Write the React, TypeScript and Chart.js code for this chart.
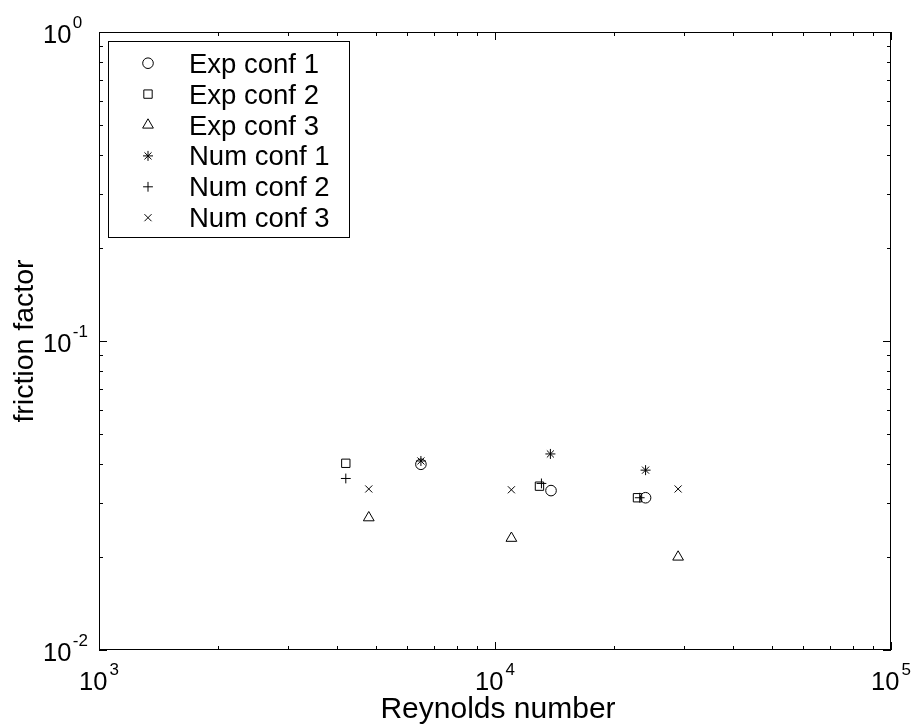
import { useEffect, useRef } from "react";
import { Chart, registerables } from "chart.js";
import { drawPoint } from "chart.js/helpers";

Chart.register(...registerables);

// ---- data (Reynolds number, friction factor) ----
const seriesLabels = ["Exp conf 1", "Exp conf 2", "Exp conf 3", "Num conf 1", "Num conf 2", "Num conf 3"];
const expConf1Re = [6500, 13850, 24000];
const expConf1F = [0.0399, 0.0328, 0.0311];
const expConf2Re = [4200, 12950, 22900];
const expConf2F = [0.0402, 0.0339, 0.0311];
const expConf3Re = [4800, 11000, 29000];
const expConf3F = [0.0268, 0.0230, 0.0200];
const numConf1Re = [6500, 13800, 24000];
const numConf1F = [0.0409, 0.0431, 0.0382];
const numConf2Re = [4200, 13100, 23200];
const numConf2F = [0.0359, 0.0346, 0.0311];
const numConf3Re = [4800, 11000, 29000];
const numConf3F = [0.0332, 0.0330, 0.0332];

// ---- ticks ----
const xMajorTicks = [1e3, 1e4, 1e5];
const xTickExponents = ["3", "4", "5"];
const xMinorTicks = [2e3, 3e3, 4e3, 5e3, 6e3, 7e3, 8e3, 9e3, 2e4, 3e4, 4e4, 5e4, 6e4, 7e4, 8e4, 9e4];
const yMajorTicks = [1e-2, 1e-1, 1];
const yTickExponents = ["-2", "-1", "0"];
const yMinorTicks = [0.02, 0.03, 0.04, 0.05, 0.06, 0.07, 0.08, 0.09, 0.2, 0.3, 0.4, 0.5, 0.6, 0.7, 0.8, 0.9];
const xTitle = "Reynolds number";
const yTitle = "friction factor";

const FONT = "'Liberation Sans', Arial, Helvetica, sans-serif";

const pts = (xs: number[], ys: number[]) => xs.map((x, i) => ({ x, y: ys[i] }));

const styles: { pointStyle: any; radius: number }[] = [
  { pointStyle: "circle", radius: 5.3 },
  { pointStyle: "rect", radius: 5.9 },
  { pointStyle: "triangle", radius: 6.2 },
  { pointStyle: "star", radius: 5 },
  { pointStyle: "cross", radius: 4.9 },
  { pointStyle: "crossRot", radius: 5 },
];

const frame = {
  id: "matlabFrame",
  afterDraw(chart: any) {
    const ctx: CanvasRenderingContext2D = chart.ctx;
    const { left, right, top, bottom } = chart.chartArea;
    const xs = chart.scales.x;
    const ys = chart.scales.y;
    ctx.save();
    ctx.strokeStyle = "#000";
    ctx.lineWidth = 1;
    ctx.fillStyle = "#000";

    // box
    ctx.strokeRect(left + 0.5, top + 0.5, right - left - 1, bottom - top - 1);

    const tick = (len: number, vx: number[], vy: number[]) => {
      ctx.beginPath();
      vx.forEach((v) => {
        const px = Math.round(xs.getPixelForValue(v)) + 0.5;
        ctx.moveTo(px, bottom);
        ctx.lineTo(px, bottom - len);
        ctx.moveTo(px, top);
        ctx.lineTo(px, top + len);
      });
      vy.forEach((v) => {
        const py = Math.round(ys.getPixelForValue(v)) + 0.5;
        ctx.moveTo(left, py);
        ctx.lineTo(left + len, py);
        ctx.moveTo(right, py);
        ctx.lineTo(right - len, py);
      });
      ctx.stroke();
    };
    tick(8, xMajorTicks, yMajorTicks);
    tick(4, xMinorTicks, yMinorTicks);

    // tick labels
    const mainFont = `25.5px ${FONT}`;
    const supFont = `17px ${FONT}`;
    ctx.textBaseline = "alphabetic";
    ctx.textAlign = "left";
    xMajorTicks.forEach((v, i) => {
      const px = xs.getPixelForValue(v);
      ctx.font = mainFont;
      const w1 = ctx.measureText("10").width;
      ctx.font = supFont;
      const w2 = ctx.measureText(xTickExponents[i]).width;
      const x0 = px - (w1 + 2 + w2) / 2;
      ctx.font = mainFont;
      ctx.fillText("10", x0, bottom + 40);
      ctx.font = supFont;
      ctx.fillText(xTickExponents[i], x0 + w1 + 2, bottom + 25);
    });
    yMajorTicks.forEach((v, i) => {
      const py = ys.getPixelForValue(v);
      ctx.font = mainFont;
      const w1 = ctx.measureText("10").width;
      ctx.fillText("10", 43, py + 10.5);
      ctx.font = supFont;
      ctx.fillText(yTickExponents[i], 43 + w1 + 1.5, py - 4.5);
    });

    // axis titles
    ctx.textAlign = "center";
    ctx.font = `30px ${FONT}`;
    ctx.fillText(xTitle, 498, 717.5);
    ctx.save();
    ctx.font = `28.5px ${FONT}`;
    ctx.translate(33.3, (top + bottom) / 2);
    ctx.rotate(-Math.PI / 2);
    ctx.fillText(yTitle, 0, 0);
    ctx.restore();

    // legend
    const bx = 108, by = 41, bw = 241, bh = 196;
    ctx.fillStyle = "#fff";
    ctx.fillRect(bx, by, bw, bh);
    ctx.strokeStyle = "#000";
    ctx.strokeRect(bx + 0.5, by + 0.5, bw, bh);
    ctx.textAlign = "left";
    ctx.font = `27.5px ${FONT}`;
    chart.data.datasets.forEach((ds: any, i: number) => {
      const base = 72.7 + 30.9 * i;
      ctx.strokeStyle = "#000";
      ctx.fillStyle = "rgba(0,0,0,0)";
      ctx.lineWidth = 1;
      drawPoint(ctx, { pointStyle: ds.pointStyle, radius: ds.pointRadius, borderWidth: 1, rotation: 0 } as any, 148, base - 9.5);
      ctx.fillStyle = "#000";
      ctx.fillText(ds.label, 189, base);
    });
    ctx.restore();
  },
};

export default function App() {
  const ref = useRef<HTMLCanvasElement | null>(null);
  useEffect(() => {
    if (!ref.current) return;
    const series = [
      pts(expConf1Re, expConf1F),
      pts(expConf2Re, expConf2F),
      pts(expConf3Re, expConf3F),
      pts(numConf1Re, numConf1F),
      pts(numConf2Re, numConf2F),
      pts(numConf3Re, numConf3F),
    ];
    const chart = new Chart(ref.current, {
      type: "scatter",
      data: {
        datasets: series.map((data, i) => ({
          label: seriesLabels[i],
          data,
          pointStyle: styles[i].pointStyle,
          pointRadius: styles[i].radius,
          pointBorderWidth: 1,
          borderColor: "#000",
          backgroundColor: "rgba(0,0,0,0)",
          showLine: false,
        })),
      },
      options: {
        animation: false,
        responsive: false,
        devicePixelRatio: 1,
        events: [],
        layout: { padding: { left: 99, top: 32, right: 25, bottom: 77 } },
        plugins: { legend: { display: false }, tooltip: { enabled: false } },
        scales: {
          x: { type: "logarithmic", min: 1e3, max: 1e5, display: false },
          y: { type: "logarithmic", min: 1e-2, max: 1, display: false },
        },
      },
      plugins: [frame],
    });
    return () => chart.destroy();
  }, []);
  return (
    <div style={{ position: "absolute", left: 0, top: 0, width: 916, height: 727, background: "#fff" }}>
      <canvas ref={ref} width={916} height={727} style={{ display: "block" }} />
    </div>
  );
}
